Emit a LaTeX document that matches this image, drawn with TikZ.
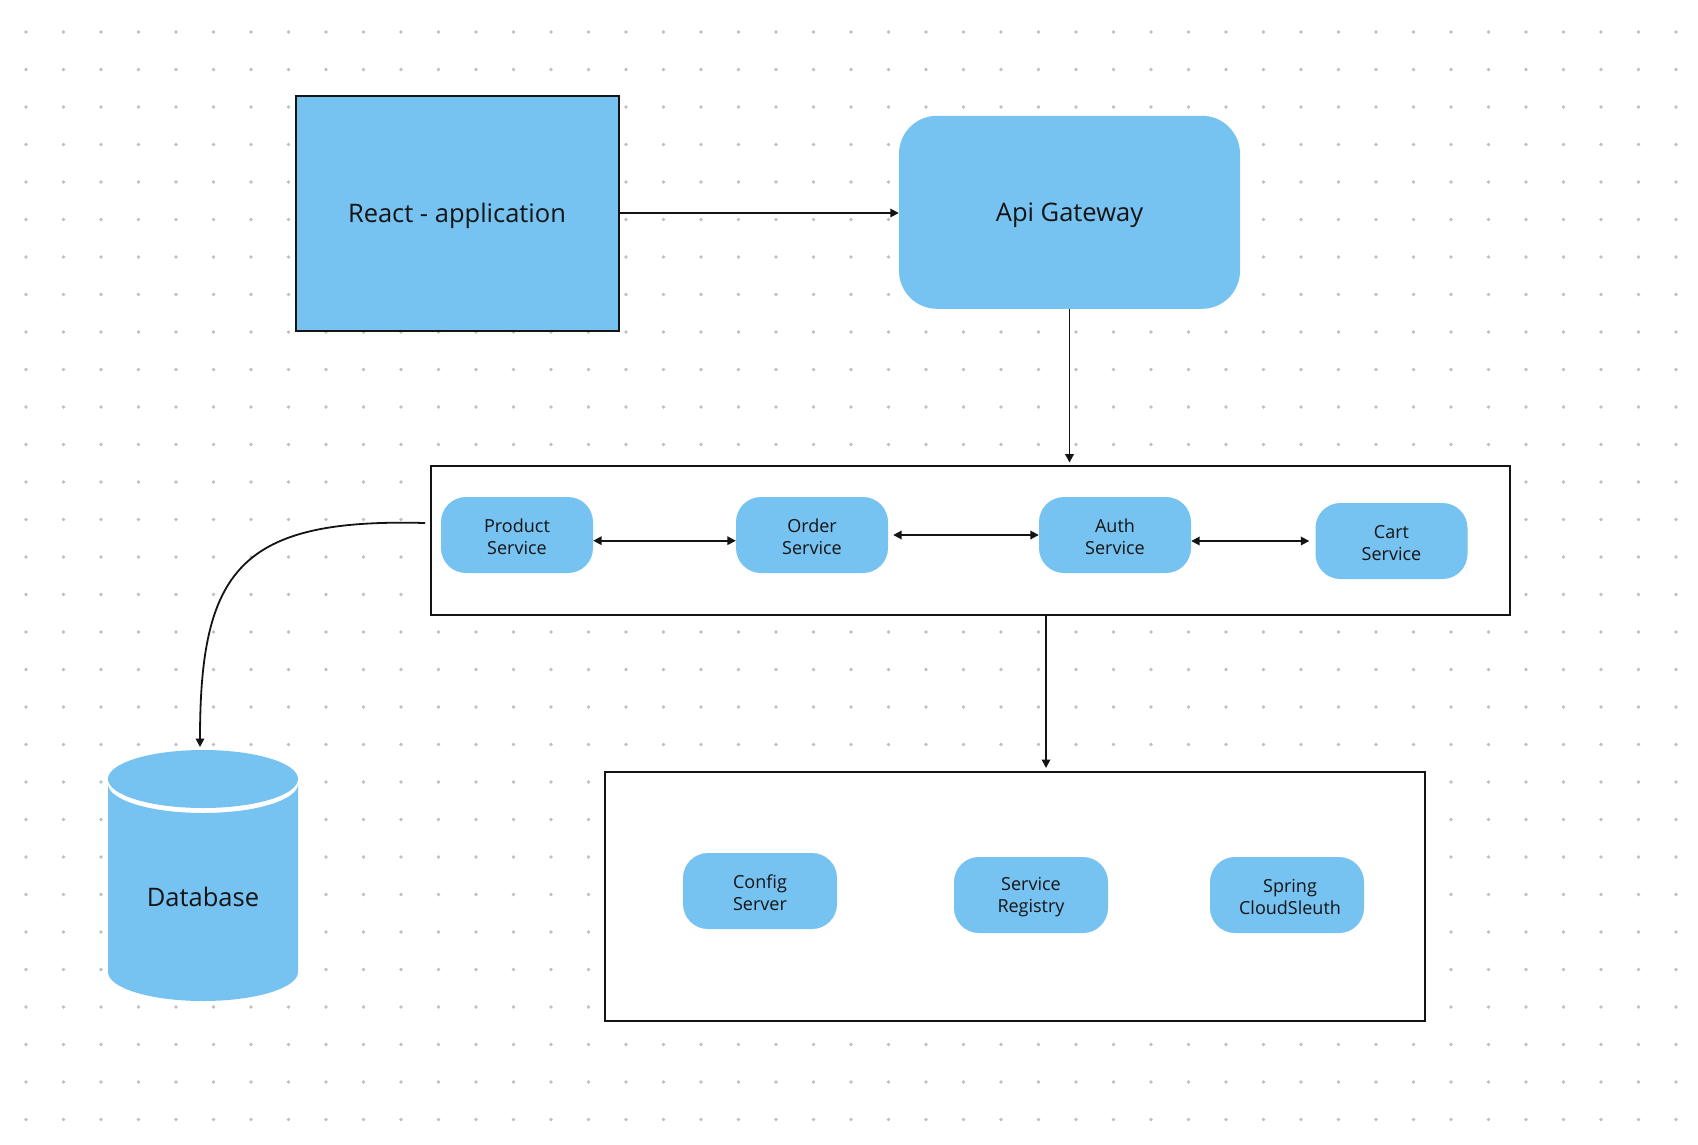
\documentclass[tikz,border=0pt]{standalone}
\usepackage{fontspec}
\setmainfont{Open Sans}
\usetikzlibrary{arrows.meta,calc}
\definecolor{boxblue}{RGB}{118,194,241}
\definecolor{griddot}{RGB}{192,192,192}
\definecolor{ink}{RGB}{20,20,20}

\begin{document}
\begin{tikzpicture}[x=1pt,y=-1pt,
  tip/.style={-{Triangle[length=8.5pt,width=8.5pt]}},
  both/.style={{Triangle[length=8.5pt,width=8.5pt]}-{Triangle[length=8.5pt,width=8.5pt]}},
  link/.style={line width=1.8pt, draw=ink},
  frame/.style={draw=ink, line width=2pt, fill=white, inner sep=0pt},
  bigtext/.style={font=\fontsize{25.5}{30}\selectfont, text=ink, text depth=0pt},
  svc/.style={fill=boxblue, rounded corners=25pt, minimum width=152pt,
    minimum height=76pt, inner sep=0pt},
  svctext/.style={align=center, text=ink, inner sep=0pt, yshift=-2pt,
    font=\fontsize{18}{21.7}\selectfont}
  ]

% canvas and dotted grid
\fill[white] (0,0) rectangle (1698,1144);
\useasboundingbox (0,0) rectangle (1698,1144);
\foreach \i in {0,...,44}
  \foreach \j in {0,...,29}
    \fill[griddot] (26+37.5*\i, 32+37.5*\j) circle (1.8pt);

% front end and gateway
\node[frame, fill=boxblue, minimum width=323pt, minimum height=235pt, bigtext]
  (react) at (457,213) {React - application};
\node[fill=boxblue, rounded corners=38pt, minimum width=341pt, minimum height=193pt,
  inner sep=0pt, bigtext] (api) at (1069.5,212.3) {Api Gateway};

% business services
\node[frame, minimum width=1078.5pt, minimum height=149.5pt] (svcbox) at (970.3,540.3) {};
\node[svc, label={[svctext]center:{Product\\Service}}] (prod) at (517,535) {};
\node[svc, label={[svctext]center:{Order\\Service}}]   (ord)  at (812,535) {};
\node[svc, label={[svctext]center:{Auth\\Service}}]    (auth) at (1115,535) {};
\node[svc, label={[svctext]center:{Cart\\Service}}]    (cart) at (1391.5,541) {};

% infrastructure services
\node[frame, minimum width=820pt, minimum height=249pt] (infra) at (1015.2,896.5) {};
\node[svc, minimum width=154pt, label={[svctext]center:{Config\\Server}}]
  (config) at (760,891) {};
\node[svc, minimum width=154pt, label={[svctext]center:{Service\\Registry}}]
  (registry) at (1031,895) {};
\node[svc, minimum width=154pt, label={[svctext,xshift=3pt]center:{Spring\\CloudSleuth}}]
  (sleuth) at (1287,895) {};

% database cylinder
\fill[boxblue] (108,784) -- (108,972)
  arc[start angle=180, end angle=360, x radius=95pt, y radius=29pt]
  -- (298,784)
  arc[start angle=360, end angle=180, x radius=95pt, y radius=29pt] -- cycle;
\fill[boxblue] (203,779) ellipse[x radius=95pt, y radius=29pt];
\node[bigtext] (db) at (203,897) {Database};
\coordinate (dbtop) at (200,747);

% connectors
\draw[link,tip] (react.east) -- (api.west |- react.east);
\draw[link,tip,shorten >=2pt] (api.south) -- (api.south |- svcbox.north);
\draw[link,both] ([yshift=-5.7pt]prod.east) -- ([yshift=-5.7pt]ord.west);
\draw[link,both,shorten <=5pt] (ord.east) -- (auth.west);
\draw[link,both,shorten >=6pt] ([yshift=-6pt]auth.east) -- (cart.west);
\draw[link,tip,shorten >=3pt] ([xshift=75.7pt]svcbox.south)
  -- ([xshift=75.7pt]svcbox.south |- infra.north);
\draw[link,tip] ([xshift=-5pt,yshift=17.3pt]svcbox.west)
  .. controls (240,518) and (200,570) .. (dbtop);
\end{tikzpicture}
\end{document}
